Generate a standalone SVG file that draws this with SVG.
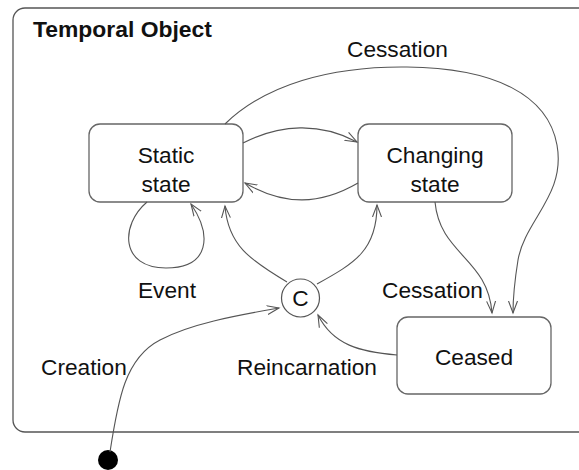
<svg xmlns="http://www.w3.org/2000/svg" width="579" height="470" viewBox="0 0 579 470">
<defs>
<style>
.frame{fill:#fff;stroke:#555;stroke-width:1.3}
.box{fill:#fff;stroke:#666;stroke-width:1.3}
.edge{fill:none;stroke:#555;stroke-width:1.1}
text{font-family:"Liberation Sans",Arial,sans-serif;font-size:22.7px;fill:#111}
.title{font-weight:bold;font-size:22.9px}
.mid{text-anchor:middle}
</style>
<marker id="arr" markerUnits="userSpaceOnUse" markerWidth="14" markerHeight="12" refX="12" refY="5" orient="auto" viewBox="0 0 14 10">
<path d="M0,0.5 L12,5 L0,9.5" fill="none" stroke="#555" stroke-width="1.1"/>
</marker>
</defs>
<rect width="579" height="470" fill="#fff"/>
<g id="frame">
<rect class="frame" x="13" y="8" width="590" height="424" rx="12"/>
<text class="title" x="33" y="37">Temporal Object</text>
</g>
<g id="static">
<rect class="box" x="89" y="124" width="154" height="78" rx="11"/>
<text class="mid" x="166" y="163">Static</text>
<text class="mid" x="166" y="192">state</text>
</g>
<g id="changing">
<rect class="box" x="358" y="124" width="154" height="78" rx="11"/>
<text class="mid" x="435" y="163">Changing</text>
<text class="mid" x="435" y="192">state</text>
</g>
<g id="ceased">
<rect class="box" x="397" y="317" width="154" height="77" rx="11"/>
<text class="mid" x="474" y="365">Ceased</text>
</g>
<g id="choice">
<circle cx="300.5" cy="298" r="19" fill="#fff" stroke="#555" stroke-width="1.2"/>
<text class="mid" x="300.5" y="306">C</text>
</g>
<g id="start">
<circle cx="108" cy="460" r="10" fill="#000"/>
</g>
<g id="connectors">
<path class="edge" marker-end="url(#arr)" d="M243,143 C280,124 320,122 357,142"/>
<path class="edge" marker-end="url(#arr)" d="M358,183 C320,205 285,206 245,183"/>
<path class="edge" marker-end="url(#arr)" d="M147,202 C120,225 120,268 166,268 C210,268 212,235 191,204"/>
<path class="edge" marker-end="url(#arr)" d="M287,282 C250,260 228,245 225,206"/>
<path class="edge" marker-end="url(#arr)" d="M317,284 C355,263 377,250 377,205"/>
<path class="edge" marker-end="url(#arr)" d="M435,202 C440,255 488,258 492,313"/>
<path class="edge" marker-end="url(#arr)" d="M225,124 C265,85 330,66 407,67 C495,68 548,95 557,145 C566,195 525,220 518,260 C514,285 513,300 513,313"/>
<path class="edge" marker-end="url(#arr)" d="M397,355 C360,352 333,345 318,315"/>
<path class="edge" marker-end="url(#arr)" d="M110,452 C118,400 125,358 160,340 C192,323 240,315 279,308"/>
</g>
<g id="labels">
<text x="347" y="57">Cessation</text>
<text class="mid" x="167" y="298">Event</text>
<text x="382" y="298">Cessation</text>
<text x="41" y="375">Creation</text>
<text x="237" y="375">Reincarnation</text>
</g>
</svg>
